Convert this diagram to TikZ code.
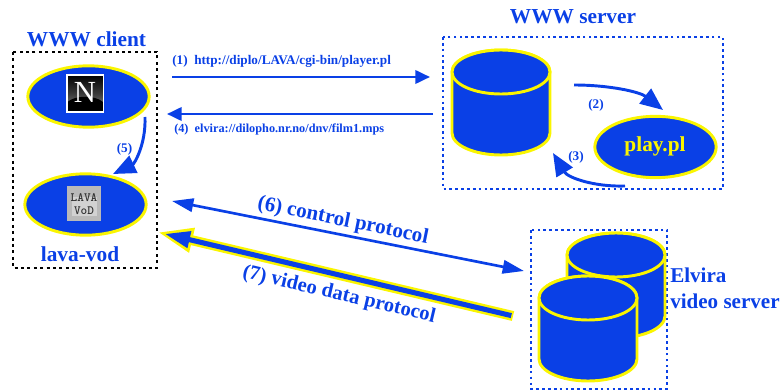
\documentclass[tikz,border=0pt]{standalone}
\usepackage{fontspec}
\setmainfont{Liberation Serif}
\usetikzlibrary{arrows.meta,shapes.geometric,calc}
\definecolor{vblue}{RGB}{10,64,230}
\definecolor{vyellow}{RGB}{250,245,0}
\tikzset{
  ell/.style={ellipse,draw=vyellow,fill=vblue,line width=2.2pt,minimum width=91pt,minimum height=46pt,inner sep=0pt},
  cyl/.style={draw=vyellow,fill=vblue,line width=2.2pt},
  lab/.style={text=vblue,font=\bfseries,inner sep=0pt},
  small/.style={lab,font=\bfseries\fontsize{9.9}{12}\selectfont},
  big/.style={lab,font=\bfseries\fontsize{16}{18}\selectfont},
  arrow/.style={draw=vblue,line width=2pt,-{Triangle[length=11pt,width=10pt]}},
  bigarrow/.style={draw=vblue,line width=2.2pt,-{Triangle[length=17pt,width=14pt]}},
  clientbox/.style={draw=black,line width=2.2pt,dash pattern=on 2.2pt off 2.6pt},
  serverbox/.style={draw=vblue,line width=2pt,dash pattern=on 2pt off 2.4pt},
}
\newcommand{\cylinder}[3]{% name, cx, cy
  \coordinate (#1) at (#2,#3);
  \path[cyl] (#2-49,#3) -- (#2-49,#3+61) arc[start angle=180,end angle=0,x radius=49,y radius=22]
     -- (#2+49,#3) arc[start angle=0,end angle=-180,x radius=49,y radius=22] -- cycle;
  \path[cyl] (#2-49,#3) arc[start angle=180,end angle=540,x radius=49,y radius=22];
}
\begin{document}
\begin{tikzpicture}[x=0.75pt,y=-0.75pt]
\useasboundingbox (0,0) rectangle (782,392);
% boxes
\coordinate (cbA) at (13,52); \coordinate (cbB) at (157,268);
\draw[clientbox] (cbA) rectangle (cbB);
\coordinate (sbA) at (443,37); \coordinate (sbB) at (723,189);
\draw[serverbox] (sbA) rectangle (sbB);
\coordinate (ebA) at (531,230); \coordinate (ebB) at (667,389);
\draw[serverbox] (ebA) rectangle (ebB);
% titles
\node[big] (tclient) at (86.5,39) {WWW client};
\node[big] (tserver) at (573,17) {WWW server};
\node[big] (tlava) at (80,254) {lava-vod};
\node[big,align=left,anchor=north west,font=\bfseries\fontsize{15.8}{19}\selectfont] (telvira) at (670,268) {Elvira\\video server};
% ellipses
\node[ell] (netscape) at (88.5,96.5) {};
\node[ell] (lavaell) at (85.5,204.5) {};
\node[ell] (play) at (655.5,147) {};
\node[lab,text=vyellow,font=\bfseries\fontsize{16}{18}\selectfont] (playt) at (655,146) {play.pl};
% Netscape icon
\coordinate (nA) at (67,75); \coordinate (nB) at (103.5,112);
\shade[top color=black,bottom color=gray!90,middle color=gray!45!black] (nA) rectangle (nB);
\fill[black] (67.5,102) .. controls (75,95) and (95,95) .. (103,102) -- (103,111.5) -- (67.5,111.5) -- cycle;
\draw[white,line width=0.8pt] (nA) rectangle (nB);
\node[text=white,font=\fontsize{23}{23}\selectfont,inner sep=0pt] (nlogo) at (85,92.5) {N};
% LAVA icon
\coordinate (lA) at (67,186); \coordinate (lB) at (101,221);
\fill[gray!55] (lA) rectangle (lB);
\fill[gray!35] (72,197) rectangle (97,216);
\node[font=\bfseries\ttfamily\fontsize{9.5}{9.5}\selectfont,align=center,text=black!80,inner sep=0pt] (llogo) at (84,204) {LAVA\\VoD};
% cylinders
\cylinder{wwwdb}{501}{72}
\cylinder{vidb}{616}{255}
\cylinder{vida}{588}{298}
% arrows
\coordinate (a1s) at (172,77); \coordinate (a1e) at (430,77);
\draw[arrow] (a1s) -- (a1e);
\coordinate (a4s) at (433,114); \coordinate (a4e) at (167,114);
\draw[arrow] (a4s) -- (a4e);
\coordinate (a5s) at (145,117); \coordinate (a5e) at (113,174);
\draw[bigarrow] (a5s) .. controls (146,145) and (134,164) .. (a5e);
\coordinate (a2s) at (574,85); \coordinate (a2e) at (663,110);
\draw[bigarrow] (a2s) .. controls (610,85) and (640,92) .. (a2e);
\coordinate (a3s) at (625,186); \coordinate (a3e) at (553,153);
\draw[bigarrow] (a3s) .. controls (595,187) and (568,178) .. (a3e);
\coordinate (a6s) at (172,201); \coordinate (a6e) at (524,271);
\draw[draw=vblue,line width=2pt,{Triangle[length=16pt,width=10pt]}-{Triangle[length=16pt,width=10pt]}] (a6s) -- (a6e);
% video data arrow
\coordinate (a7s) at (513,316); \coordinate (a7e) at (157,232);
\draw[draw=vyellow,line width=7.5pt,-{Triangle[length=27pt,width=17pt]}] (a7s) -- (a7e);
\draw[draw=vblue,line width=3.8pt,shorten >=6pt,shorten <=1.3pt,-{Triangle[length=19pt,width=12pt]}] (a7s) -- (a7e);
% labels
\node[small,anchor=west] (l1) at (172,61) {(1)\ \ http://diplo/LAVA/cgi-bin/player.pl};
\node[small,anchor=west,font=\bfseries\fontsize{9.2}{12}\selectfont] (l4) at (174,129) {(4)\ \ elvira://dilopho.nr.no/dnv/film1.mps};
\node[small] (l5) at (124.5,149) {(5)};
\node[small] (l2) at (596,105) {(2)};
\node[small] (l3) at (576,157) {(3)};
\node[lab,rotate=-11.5,font=\bfseries\fontsize{15.8}{18}\selectfont] (l6) at (343,221) {(6) control protocol};
\node[lab,rotate=-13.3,font=\bfseries\fontsize{15.4}{18}\selectfont] (l7) at (339,295) {(7) video data protocol};
\end{tikzpicture}
\end{document}
